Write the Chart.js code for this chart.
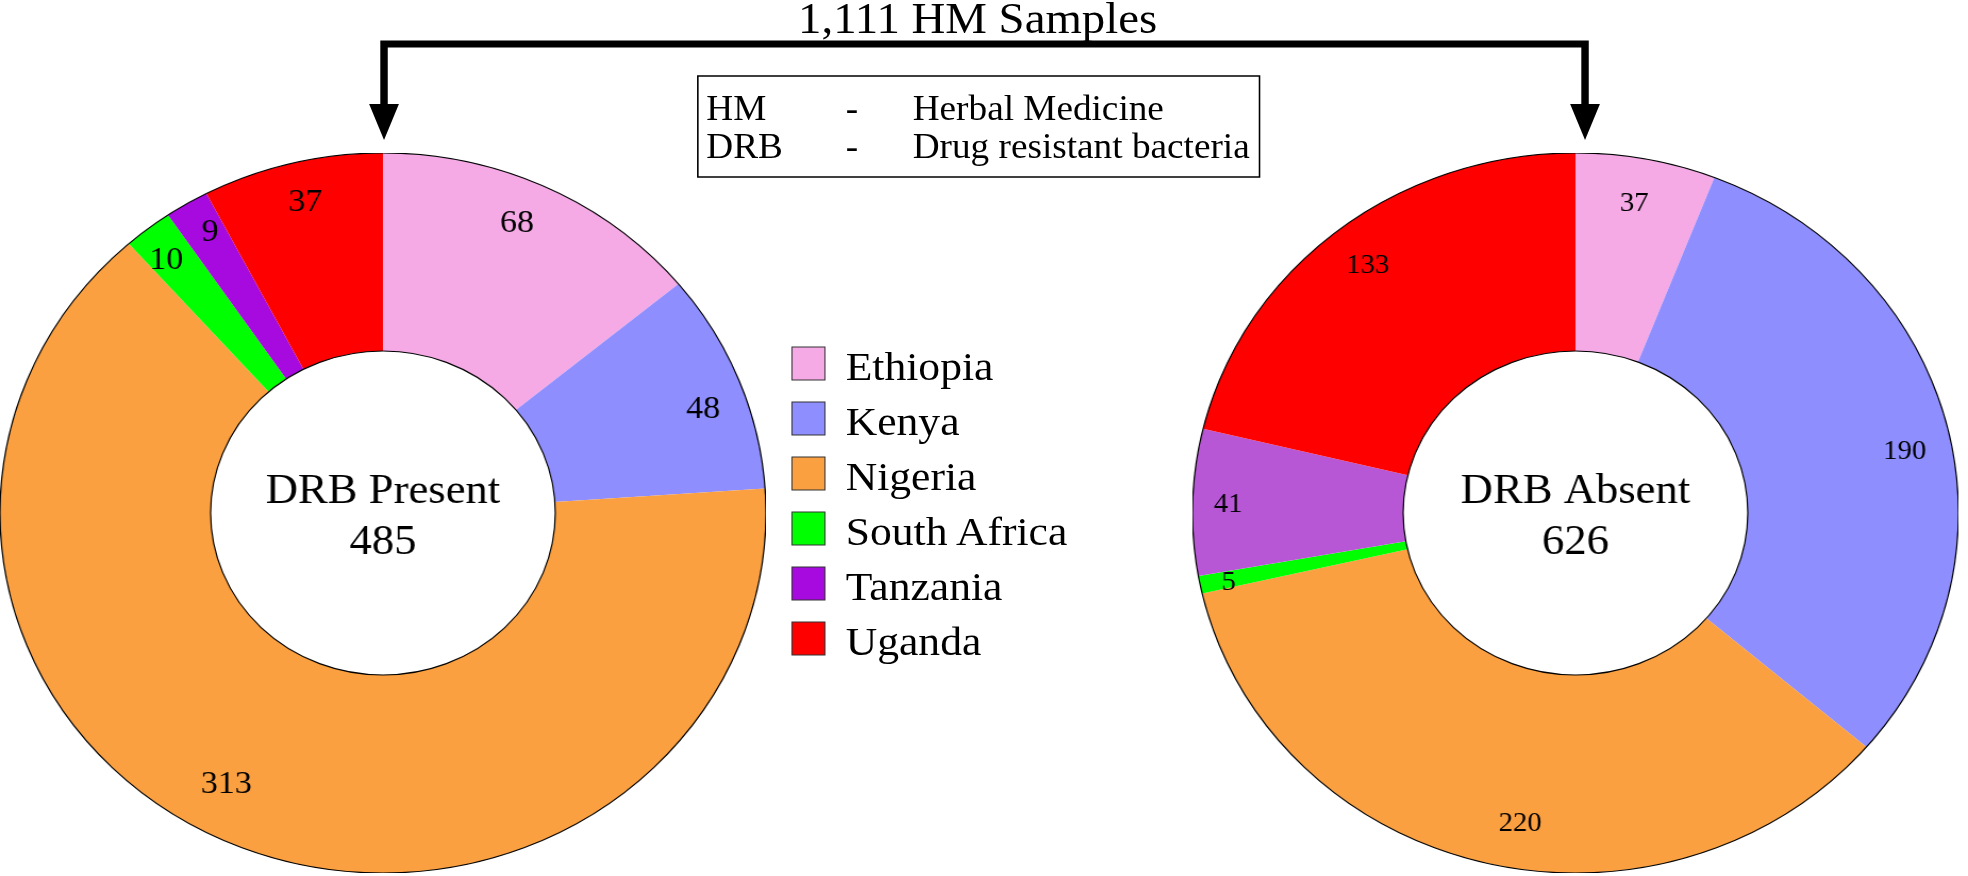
<!DOCTYPE html>
<html>
<head>
<meta charset="utf-8">
<script src="https://cdn.jsdelivr.net/npm/chart.js@4/dist/chart.umd.min.js"></script>
<style>
html,body{margin:0;padding:0;background:#fff;overflow:hidden;}
#stage{position:relative;width:1850px;height:876px;transform:scaleX(1.06378);transform-origin:0 0;}
#stage canvas{position:absolute;}
#overlay{position:absolute;left:0;top:0;}
#overlay text{font-family:"Liberation Serif","Times New Roman",serif;fill:#000;}
</style>
</head>
<body>
<div id="stage">
  <canvas id="left" width="720" height="720" style="left:0px;top:153px;width:720px;height:720px;"></canvas>
  <canvas id="right" width="720" height="720" style="left:1121px;top:153px;width:720px;height:720px;"></canvas>
  <svg id="overlay" width="1850" height="876" xmlns="http://www.w3.org/2000/svg"></svg>
</div>
<script>
// ---- data ----
const countries = ["Ethiopia", "Kenya", "Nigeria", "South Africa", "Tanzania", "Uganda"];
const drbPresent = [68, 48, 313, 10, 9, 37];
const drbAbsent = [37, 190, 220, 5, 41, 133];
const presentTitle = "DRB Present";
const absentTitle = "DRB Absent";
const mainTitle = "1,111 HM Samples";
const abbreviations = ["HM", "DRB"];
const abbreviationMeanings = ["Herbal Medicine", "Drug resistant bacteria"];

// ---- styles ----
const presentColors = ["#F5AAE6", "#8E8EFF", "#FBA040", "#00FF00", "#A70ADF", "#FF0000"];
const absentColors = ["#F5AAE6", "#8E8EFF", "#FBA040", "#00FF00", "#B857D6", "#FF0000"];
// label placement style: fraction of outer radius and angle nudge (degrees)
const presentLabelRadius = [0.877, 0.884, 0.858, 0.90, 0.90, 0.887];
const presentLabelNudge = [-1.7, 2.7, 6.2, -1.1, 0.7, 0.5];
const absentLabelRadius = [0.872, 0.876, 0.875, 0.926, 0.907, 0.874];
const absentLabelNudge = [-0.5, 3.0, -4.3, -0.6, -0.3, -0.1];
const FONT = '"Liberation Serif","Times New Roman",serif';

const ringPlugin = {
  id: 'ring',
  afterDatasetsDraw(chart, args, opts) {
    const ctx = chart.ctx;
    const meta = chart.getDatasetMeta(0);
    const first = meta.data[0];
    const {x, y, outerRadius, innerRadius} = first.getProps(['x', 'y', 'outerRadius', 'innerRadius'], true);
    ctx.save();
    ctx.lineWidth = 1.2;
    ctx.strokeStyle = '#000';
    ctx.beginPath(); ctx.arc(x, y, outerRadius, 0, Math.PI * 2); ctx.stroke();
    ctx.beginPath(); ctx.arc(x, y, innerRadius, 0, Math.PI * 2); ctx.stroke();
    const values = chart.data.datasets[0].data;
    ctx.fillStyle = '#000';
    ctx.textAlign = 'center';
    ctx.textBaseline = 'middle';
    ctx.font = opts.labelSize + 'px ' + FONT;
    meta.data.forEach((arc, i) => {
      const p = arc.getProps(['startAngle', 'endAngle'], true);
      const a = (p.startAngle + p.endAngle) / 2 + opts.nudge[i] * Math.PI / 180;
      const r = outerRadius * opts.radius[i];
      ctx.fillText(String(values[i]), x + Math.cos(a) * r, y + Math.sin(a) * r);
    });
    ctx.textBaseline = 'alphabetic';
    ctx.font = opts.centerSize + 'px ' + FONT;
    ctx.fillText(opts.centerTitle, x, y - 10);
    const total = values.reduce((s, v) => s + v, 0);
    ctx.fillText(String(total), x, y + 41);
    ctx.restore();
  }
};

function makeChart(id, values, colors, title, labelSize, radius, nudge) {
  return new Chart(document.getElementById(id), {
    type: 'doughnut',
    data: {
      labels: countries,
      datasets: [{data: values, backgroundColor: colors, borderWidth: 0, hoverOffset: 0}]
    },
    options: {
      responsive: false,
      maintainAspectRatio: false,
      animation: false,
      cutout: '45%',
      layout: {padding: 0},
      plugins: {
        legend: {display: false},
        tooltip: {enabled: false},
        ring: {labelSize: labelSize, radius: radius, nudge: nudge, centerSize: 42, centerTitle: title}
      }
    },
    plugins: [ringPlugin]
  });
}

makeChart('left', drbPresent, presentColors, presentTitle, 32, presentLabelRadius, presentLabelNudge);
makeChart('right', drbAbsent, absentColors, absentTitle, 27, absentLabelRadius, absentLabelNudge);

// ---- overlay: title, arrows, abbreviation box, legend ----
const svg = document.getElementById('overlay');
const NS = 'http://www.w3.org/2000/svg';
function el(tag, attrs, text) {
  const e = document.createElementNS(NS, tag);
  for (const k in attrs) e.setAttribute(k, attrs[k]);
  if (text !== undefined) e.textContent = text;
  svg.appendChild(e);
  return e;
}
el('text', {x: 919, y: 33, 'font-size': 44, 'text-anchor': 'middle'}, mainTitle);
// bracket arrow
el('path', {d: 'M361 106 L361 44 L1490 44 L1490 106', fill: 'none', stroke: '#000', 'stroke-width': 7, 'stroke-linejoin': 'miter'});
el('polygon', {points: '347,104 375,104 361,140', fill: '#000'});
el('polygon', {points: '1476,104 1504,104 1490,140', fill: '#000'});
// abbreviation box
el('rect', {x: 656, y: 76, width: 528, height: 101, fill: '#fff', stroke: '#000', 'stroke-width': 1.5});
abbreviations.forEach((a, i) => {
  const by = 120 + i * 38;
  el('text', {x: 664, y: by, 'font-size': 35}, a);
  el('text', {x: 795, y: by, 'font-size': 35}, '-');
  el('text', {x: 858, y: by, 'font-size': 35}, abbreviationMeanings[i]);
});
// legend
countries.forEach((c, i) => {
  const top = 347 + i * 55;
  el('rect', {x: 744.5, y: top, width: 31, height: 33, fill: presentColors[i], stroke: '#333', 'stroke-width': 1});
  el('text', {x: 795, y: top + 33, 'font-size': 41}, c);
});
</script>
</body>
</html>
